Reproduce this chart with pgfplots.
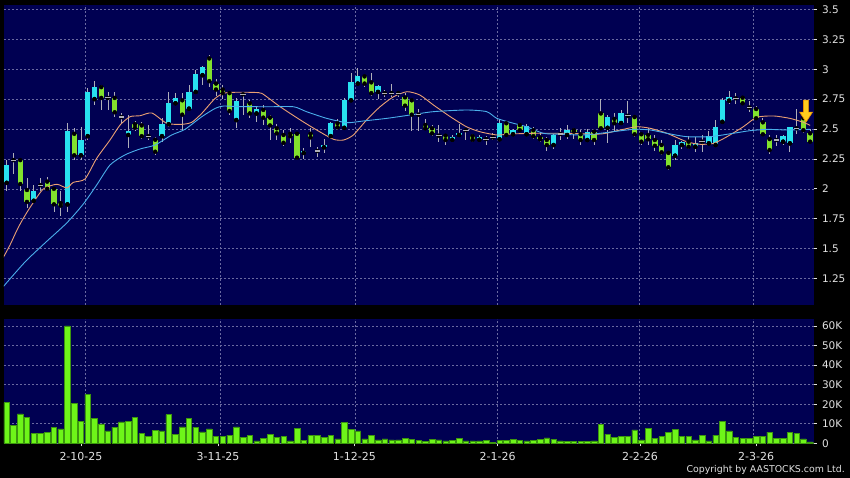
\documentclass[border=0pt]{standalone}
\usepackage{pgfplots}
\pgfplotsset{compat=1.18}
\usepackage{pgfplotstable}
\usepackage{fontspec}
\setmainfont{DejaVu Sans}
\definecolor{bg}{RGB}{0,0,82}
\definecolor{gridc}{RGB}{105,105,160}
\definecolor{lbl}{RGB}{225,225,225}
\definecolor{upc}{RGB}{40,225,240}
\definecolor{dnc}{RGB}{130,225,45}
\definecolor{wick}{RGB}{175,175,185}
\definecolor{volf}{RGB}{110,245,25}
\definecolor{vold}{RGB}{60,150,15}
\definecolor{maor}{RGB}{235,160,115}
\definecolor{mabl}{RGB}{75,175,235}
\definecolor{arrf}{RGB}{255,205,30}
\definecolor{arrd}{RGB}{230,140,0}

\pgfplotstableread{
i o h l c
0 2.05 2.24 1.98 2.20
4 1.90 2.03 1.88 1.98
9 1.87 2.55 1.81 2.48
11 2.28 2.52 2.24 2.41
12 2.44 2.84 2.41 2.81
13 2.75 2.90 2.70 2.85
18 2.45 2.62 2.34 2.48
23 2.44 2.59 2.39 2.54
24 2.54 2.81 2.52 2.72
25 2.715 2.80 2.70 2.76
27 2.67 2.87 2.66 2.81
28 2.81 2.99 2.80 2.96
29 2.95 3.03 2.87 3.02
34 2.575 2.76 2.505 2.73
37 2.63 2.69 2.56 2.67
44 2.30 2.34 2.25 2.32
47 2.347 2.42 2.30 2.366
48 2.44 2.56 2.42 2.55
50 2.51 2.76 2.49 2.74
51 2.74 2.97 2.73 2.89
52 2.88 3.01 2.87 2.94
55 2.81 2.87 2.75 2.86
66 2.41 2.45 2.40 2.43
67 2.45 2.54 2.44 2.464
70 2.41 2.45 2.40 2.43
73 2.414 2.58 2.41 2.548
75 2.456 2.50 2.44 2.49
77 2.456 2.54 2.45 2.528
81 2.366 2.46 2.33 2.45
83 2.45 2.53 2.42 2.49
86 2.408 2.50 2.40 2.478
89 2.51 2.62 2.38 2.60
91 2.55 2.66 2.53 2.63
99 2.277 2.41 2.24 2.366
100 2.366 2.40 2.33 2.394
102 2.352 2.43 2.31 2.385
104 2.38 2.48 2.366 2.444
105 2.366 2.575 2.36 2.52
106 2.56 2.76 2.56 2.74
107 2.737 2.82 2.71 2.765
115 2.394 2.45 2.37 2.44
116 2.38 2.52 2.31 2.514
}\upT

\pgfplotstableread{
i o h l c
2 2.24 2.25 1.98 2.04
3 1.99 2.09 1.84 1.89
6 2.06 2.10 1.98 2.00
7 2.00 2.01 1.81 1.87
8 1.88 1.98 1.77 1.86
10 2.46 2.51 2.24 2.28
14 2.85 2.87 2.66 2.76
16 2.76 2.81 2.60 2.64
19 2.54 2.57 2.48 2.51
20 2.53 2.56 2.42 2.44
22 2.41 2.43 2.28 2.31
26 2.74 2.80 2.49 2.62
30 3.09 3.12 2.85 2.90
31 2.88 2.92 2.78 2.83
32 2.83 2.87 2.75 2.80
33 2.80 2.81 2.62 2.65
36 2.715 2.74 2.59 2.63
38 2.66 2.70 2.53 2.595
39 2.595 2.62 2.41 2.53
40 2.506 2.54 2.41 2.464
41 2.45 2.49 2.36 2.385
42 2.46 2.51 2.38 2.44
43 2.46 2.47 2.25 2.26
45 2.46 2.51 2.35 2.43
49 2.548 2.58 2.49 2.514
53 2.94 2.95 2.85 2.88
54 2.89 2.97 2.78 2.80
59 2.765 2.80 2.65 2.695
60 2.74 2.75 2.48 2.62
62 2.533 2.58 2.49 2.506
63 2.506 2.53 2.44 2.464
65 2.444 2.46 2.37 2.408
69 2.44 2.46 2.39 2.41
74 2.548 2.56 2.43 2.45
76 2.533 2.55 2.48 2.49
78 2.49 2.52 2.42 2.44
79 2.43 2.47 2.39 2.414
80 2.408 2.43 2.32 2.366
84 2.49 2.51 2.42 2.478
85 2.456 2.49 2.37 2.408
87 2.478 2.49 2.37 2.408
88 2.63 2.75 2.50 2.506
90 2.584 2.63 2.48 2.548
93 2.60 2.62 2.43 2.456
94 2.456 2.47 2.37 2.394
95 2.45 2.51 2.37 2.414
96 2.408 2.45 2.32 2.36
97 2.366 2.41 2.28 2.305
98 2.30 2.32 2.16 2.18
101 2.394 2.44 2.33 2.352
109 2.762 2.77 2.70 2.715
111 2.667 2.69 2.58 2.59
112 2.556 2.59 2.45 2.456
113 2.416 2.45 2.29 2.324
118 2.59 2.62 2.47 2.49
119 2.464 2.50 2.39 2.394
}\dnT

\pgfplotstableread{
i o h l
1 2.24 2.30 2.12
5 2.03 2.09 1.98
15 2.76 2.81 2.66
17 2.60 2.63 2.55
21 2.44 2.53 2.41
35 2.79 2.80 2.62
46 2.316 2.35 2.27
56 2.80 2.83 2.77
57 2.80 2.875 2.77
58 2.80 2.81 2.77
61 2.62 2.67 2.48
64 2.444 2.53 2.39
68 2.49 2.50 2.41
71 2.416 2.44 2.37
72 2.43 2.47 2.41
82 2.458 2.51 2.41
92 2.61 2.734 2.548
103 2.394 2.45 2.31
108 2.757 2.80 2.71
110 2.68 2.73 2.645
114 2.408 2.45 2.36
117 2.506 2.67 2.46
}\djT

\pgfplotstableread{
i v
0 20.8
1 9.3
2 15
3 13.3
4 4.9
5 4.9
6 5.7
7 8.3
8 7.4
9 60
10 20.4
11 11.3
12 25
13 12.7
14 9.9
15 6.4
16 8.3
17 11
18 11.3
19 13.3
20 4.9
21 3.7
22 6.6
23 6.3
24 14.7
25 4.7
26 8.4
27 12.7
28 8.1
29 5.9
30 7.4
31 3.7
32 3.4
33 4.2
34 8.4
35 3.1
36 4.2
37 1.3
38 2.4
39 4.7
40 2.9
41 3.4
42 1.3
43 7.6
44 1.5
45 3.9
46 3.9
47 3.2
48 3.9
49 2.2
50 10.6
51 7.2
52 6.3
53 2.2
54 4.2
55 1.8
56 2.2
57 1.8
58 1.8
59 2.4
60 2.0
61 1.5
62 1.0
63 2.0
64 1.7
65 1.3
66 1.6
67 2.5
68 1.2
69 1.2
70 1.2
71 1.6
72 0.6
73 1.4
74 1.6
75 2.0
76 1.4
77 1.3
78 1.4
79 2.0
80 2.8
81 2.0
82 1.3
83 1.0
84 0.8
85 0.8
86 1.0
87 1.2
88 9.5
89 4.6
90 3.1
91 3.4
92 3.7
93 6.8
94 1.8
95 7.6
96 2.6
97 3.4
98 5.6
99 7.1
100 3.4
101 3.4
102 1.8
103 4.2
104 1.3
105 4.2
106 11.3
107 6.3
108 2.9
109 2.4
110 2.4
111 3.4
112 3.4
113 5.7
114 2.4
115 2.4
116 5.4
117 4.9
118 2.2
119 0.7
}\volT

\pgfdeclareplotmark{dnarrow}{%
  \pgfpathmoveto{\pgfqpoint{-2.6pt}{11pt}}%
  \pgfpathlineto{\pgfqpoint{2.6pt}{11pt}}%
  \pgfpathlineto{\pgfqpoint{2.6pt}{-1pt}}%
  \pgfpathlineto{\pgfqpoint{6.5pt}{-1pt}}%
  \pgfpathlineto{\pgfqpoint{0pt}{-11pt}}%
  \pgfpathlineto{\pgfqpoint{-6.5pt}{-1pt}}%
  \pgfpathlineto{\pgfqpoint{-2.6pt}{-1pt}}%
  \pgfpathclose
  \pgfusepathqfillstroke}

\pgfplotsset{
  chartbase/.style={
    scale only axis, anchor=south west,
    xmin=-0.4, xmax=119.5,
    axis background/.style={fill=bg},
    axis line style={draw=none},
    major grid style={draw=gridc, dash pattern=on 2pt off 2pt, line width=0.5pt},
    tick style={draw=lbl, line width=0.8pt},
    tick align=outside,
    ticklabel style={font=\fontsize{10.5}{12}\selectfont, text=lbl},
    /pgf/number format/assume math mode=true,
    ytick pos=right, yticklabel pos=right,
    yticklabel style={anchor=west, xshift=2pt},
  },
  wick/.style={only marks, mark=none,
    error bars/.cd, y dir=both, y explicit, error mark=none,
    error bar style={draw=wick, line width=0.9pt, solid}},
  body/.style={only marks, mark=none,
    error bars/.cd, y dir=plus, y explicit, error mark=none,
    error bar style={draw=#1, line width=5.4pt, solid}},
}

\begin{document}
\begin{tikzpicture}
\path[use as bounding box] (0pt,0pt) rectangle (850pt,478pt);
\fill[black] (0pt,0pt) rectangle (850pt,478pt);

% price panel
\begin{axis}[chartbase, at={(4pt,173pt)}, width=809.5pt, height=300pt,
  ymin=1.0284, ymax=3.537,
  ytick={1.25,1.5,1.75,2,2.25,2.5,2.75,3,3.25,3.5},
  yticklabels={1.25,1.5,1.75,2,2.25,2.5,2.75,3,3.25,3.5},
  ymajorgrids, xmajorgrids,
  xtick={11.7,31.67,51.67,72.59,93.67,110.64}, xticklabels={},
  xtick style={draw=none},
  major tick length=3pt]
\addplot[wick] table[x=i, y=o, y error plus expr={\thisrow{h}-\thisrow{o}}, y error minus expr={\thisrow{o}-\thisrow{l}}] {\upT};
\addplot[wick] table[x=i, y=o, y error plus expr={\thisrow{h}-\thisrow{o}}, y error minus expr={\thisrow{o}-\thisrow{l}}] {\dnT};
\addplot[wick] table[x=i, y=o, y error plus expr={\thisrow{h}-\thisrow{o}}, y error minus expr={\thisrow{o}-\thisrow{l}}] {\djT};
\addplot[body=upc] table[x=i, y=o, y error plus expr={\thisrow{c}-\thisrow{o}}] {\upT};
\addplot[body=dnc] table[x=i, y=c, y error plus expr={\thisrow{o}-\thisrow{c}}] {\dnT};
\addplot[only marks, mark=-, mark size=2.7pt, mark options={draw=wick, line width=1.1pt}] table[x=i, y=o] {\djT};
% moving averages
\addplot[maor, line width=0.9pt, smooth, tension=0.4] coordinates {
(-0.55,1.421) (0.49,1.530) (1.53,1.656) (2.41,1.748) (3.70,1.865) (5.42,1.998)
(7.41,2.038) (8.89,2.007) (9.87,2.054) (11.6,2.082) (13.33,2.255) (15.3,2.408)
(16.79,2.533) (18.27,2.603) (19.75,2.611) (21.5,2.634) (23.7,2.548) (25.9,2.539)
(27.4,2.556) (28.9,2.631) (30.9,2.757) (32.6,2.804) (37.3,2.804) (38.5,2.770)
(40.5,2.686) (43.5,2.575) (45.9,2.492) (48.4,2.414) (49.9,2.408) (51.35,2.450)
(53.3,2.575) (55.3,2.686) (57.3,2.770) (59.3,2.812) (61.2,2.784) (63.2,2.701)
(65.7,2.603) (68.1,2.519) (70.1,2.477) (72.6,2.450) (74.6,2.458) (78.0,2.464)
(83.0,2.464) (87.9,2.458) (90.9,2.492) (93.3,2.519) (95.3,2.506) (97.8,2.464)
(100.7,2.394) (102.7,2.372) (104.7,2.380) (106.7,2.436) (109.1,2.519) (111.1,2.598)
(113.6,2.609) (116.0,2.589) (118.0,2.556) (119.0,2.530)};
\addplot[mabl, line width=0.9pt, smooth, tension=0.4] coordinates {
(-0.55,1.179) (2.71,1.388) (5.67,1.547) (8.89,1.714) (11.35,1.873) (13.33,2.032)
(15.3,2.199) (17.5,2.283) (19.75,2.333) (21.97,2.366) (24.44,2.450) (26.4,2.497)
(28.9,2.603) (30.9,2.673) (32.1,2.692) (34.1,2.688) (38.75,2.686) (42.5,2.686)
(44.4,2.645) (47.4,2.589) (50.4,2.553) (52.8,2.567) (56.3,2.589) (59.75,2.617)
(63.2,2.645) (68.1,2.659) (71.1,2.645) (72.6,2.589) (75.05,2.548) (77.0,2.519)
(79.5,2.464) (82.0,2.456) (85.4,2.450) (87.9,2.464) (92.8,2.497) (95.3,2.492)
(97.8,2.464) (100.7,2.436) (104.2,2.436) (107.6,2.464) (110.1,2.486) (112.6,2.497)
(115.6,2.492) (119.0,2.497)};
\addplot[only marks, mark=dnarrow, mark options={fill=arrf, draw=arrd, line width=0.6pt}] coordinates {(118.4,2.65)};
\end{axis}

% volume panel
\begin{axis}[chartbase, at={(4pt,34.7pt)}, width=809.5pt, height=124pt,
  ymin=0, ymax=63.4,
  ytick={0,10,20,30,40,50,60},
  yticklabels={0,10K,20K,30K,40K,50K,60K},
  ymajorgrids,
  xtick={11,31.3,51.5,72.7,93.8,111},
  xticklabels={2-10-25,3-11-25,1-12-25,2-1-26,2-2-26,2-3-26},
  xtick pos=bottom,
  xticklabel style={anchor=north, yshift=-3pt, font=\fontsize{11}{12}\selectfont},
  extra x ticks={11.7,31.67,51.67,72.59,93.67,110.64},
  extra x tick labels={},
  extra x tick style={grid=major, xtick style={draw=none}},
  major tick length=3pt]
\addplot[ybar, bar width=5.5pt, bar shift=0pt, fill=volf, draw=vold, line width=0.5pt] table[x=i, y=v] {\volT};
\end{axis}

\node[anchor=east, text=lbl, font=\fontsize{9.4}{11}\selectfont, inner sep=0pt] at (845pt,8pt) {Copyright by AASTOCKS.com Ltd.};
\end{tikzpicture}
\end{document}
